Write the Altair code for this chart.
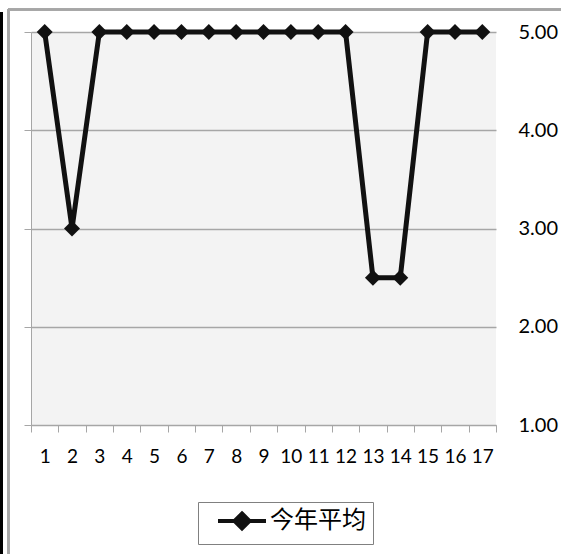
import altair as alt
import pandas as pd

# Item numbers along the bottom and the yearly average for each item
categories = [str(i) for i in range(1, 18)]
averages = [5, 3, 5, 5, 5, 5, 5, 5, 5, 5, 5, 5, 2.5, 2.5, 5, 5, 5]
series_name = "今年平均"
y_ticks = [1, 2, 3, 4, 5]
y_domain = [1, 5]

df = pd.DataFrame({"item": categories, "value": averages, "series": series_name})

W, H = 465, 393
GRID = "#a6a6a6"
INK = "#111111"
FONT = "Lato"

x_enc = alt.X(
    "item:N",
    sort=categories,
    title=None,
    scale=alt.Scale(type="band", paddingInner=0, paddingOuter=0),
    axis=alt.Axis(
        labelAngle=0,
        tickBand="extent",
        tickSize=7,
        tickColor=GRID,
        domainColor=GRID,
        labelFontSize=19,
        labelFont=FONT,
        labelColor="#000000",
        labelPadding=15,
        grid=False,
    ),
)

# legend symbol: a short stroke with a diamond in the middle
legend_symbol = "M-4.8,0L4.8,0M0,-1.5L1.5,0L0,1.5L-1.5,0Z"

series = alt.Chart(df).mark_line(
    strokeWidth=5,
    point=alt.OverlayMarkDef(shape="diamond", size=256, filled=True, color=INK, opacity=1),
).encode(
    x=x_enc,
    y=alt.Y(
        "value:Q",
        title=None,
        scale=alt.Scale(domain=y_domain, nice=False, zero=False),
        axis=alt.Axis(
            orient="left",
            values=y_ticks,
            labels=False,
            tickSize=7,
            tickColor=GRID,
            domainColor=GRID,
            grid=True,
            gridColor=GRID,
            gridWidth=1.3,
        ),
    ),
    color=alt.Color(
        "series:N",
        scale=alt.Scale(range=[INK]),
        legend=alt.Legend(
            title=None,
            orient="none",
            legendX=167,
            legendY=470,
            symbolType=legend_symbol,
            symbolSize=100,
            symbolStrokeWidth=4,
            symbolFillColor=INK,
            symbolStrokeColor=INK,
            symbolOffset=25,
            labelOffset=16,
            labelFont="Noto Sans CJK SC",
            labelFontSize=24,
            labelColor="#000000",
            strokeColor="#808080",
            padding=7,
        ),
    ),
)

# value labels on the right side of the plot
right_axis = alt.Chart(df).mark_point(opacity=0).encode(
    y=alt.Y(
        "value:Q",
        title=None,
        scale=alt.Scale(domain=y_domain, nice=False, zero=False),
        axis=alt.Axis(
            orient="right",
            values=y_ticks,
            format=".2f",
            ticks=False,
            domain=False,
            grid=False,
            labelPadding=22,
            labelFontSize=20,
            labelFont=FONT,
            labelColor="#000000",
        ),
    ),
)

# chart frame: gray border on top and left, dark edge at the far left
frame_left = alt.Chart(df).mark_rule(color="#a6a6a6", strokeWidth=1.5).encode(
    x=alt.value(-22.5), y=alt.value(-23), y2=alt.value(530)
)
frame_top = alt.Chart(df).mark_rule(color="#a6a6a6", strokeWidth=1.5).encode(
    x=alt.value(-23), x2=alt.value(540), y=alt.value(-22.5)
)
edge = alt.Chart(df).mark_rule(color="#000000", strokeWidth=2.5).encode(
    x=alt.value(-29.8), y=alt.value(-20), y2=alt.value(530)
)

chart = (
    alt.layer(series, right_axis, frame_left, frame_top, edge)
    .resolve_scale(y="independent")
    .properties(
        width=W,
        height=H,
        autosize=alt.AutoSizeParams(type="none"),
        padding={"left": 31, "top": 32, "right": 65, "bottom": 129},
        background="#ffffff",
    )
    .configure_view(fill="#f3f3f3", stroke=None)
)

chart.save("out.html", embed_options={"renderer": "svg", "actions": False})
